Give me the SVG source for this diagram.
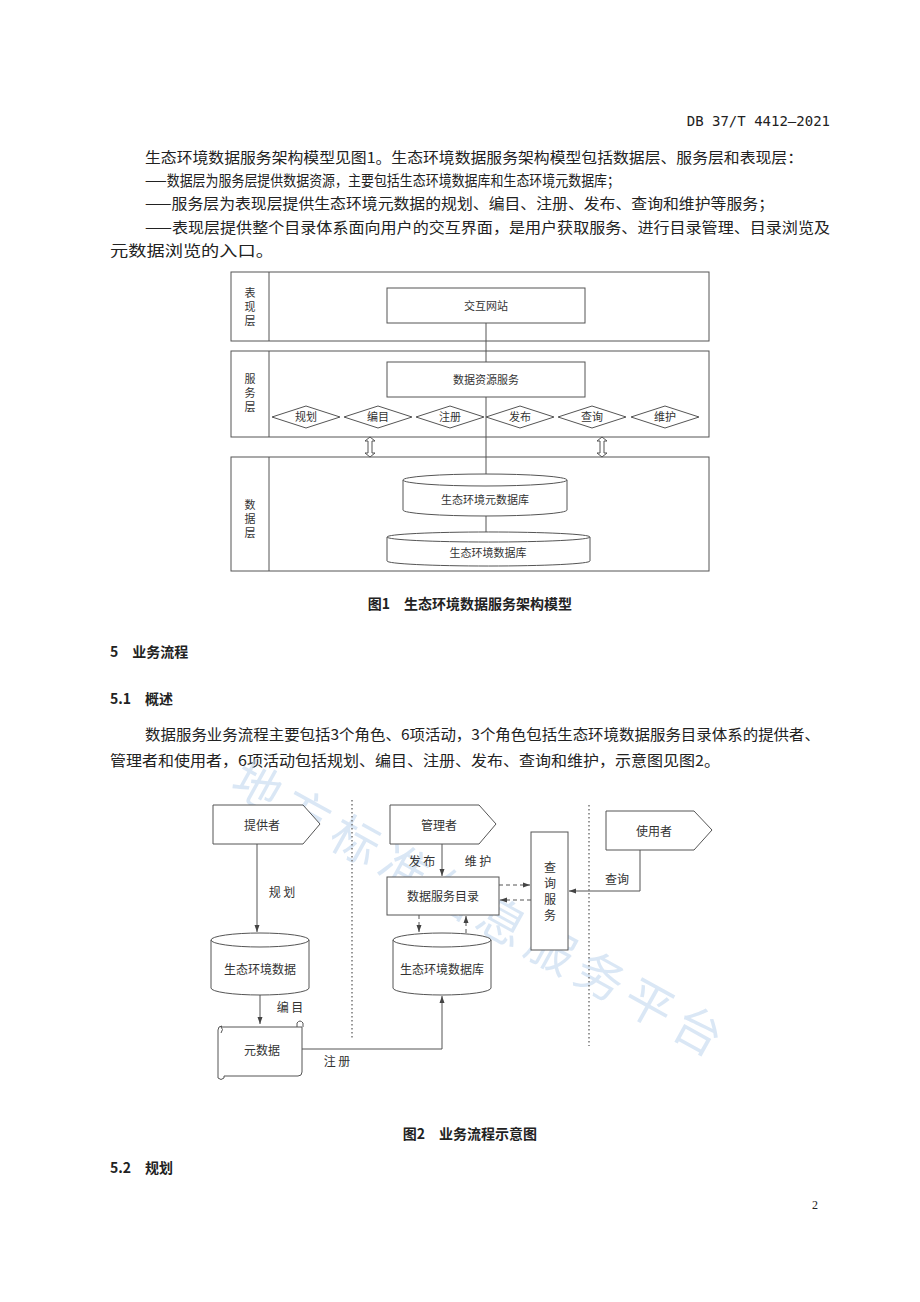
<svg xmlns="http://www.w3.org/2000/svg" width="920" height="1302" viewBox="0 0 920 1302">
<defs>
<marker id="ar" markerWidth="8" markerHeight="8" refX="7" refY="4" orient="auto" markerUnits="userSpaceOnUse"><path d="M0,1.5 L7,4 L0,6.5 Z" fill="#444"/></marker>
</defs>
<style>
text{font-family:"Noto Sans CJK SC","Liberation Serif",serif;fill:#222}
.b{font-size:15px}
.h{font-size:14px;font-weight:bold}
.s{font-size:12px;fill:#333}
.sm{font-size:11px;fill:#333}
.ln{fill:none;stroke:#555;stroke-width:1}
.bx{fill:#fff;stroke:#555;stroke-width:1}
.ds{fill:none;stroke:#555;stroke-width:1;stroke-dasharray:4,3}
.dt{fill:none;stroke:#777;stroke-width:1.5;stroke-dasharray:1.5,2.5}
.wm{font-size:48px;fill:#bcd4ee;opacity:0.55}
</style>
<rect width="920" height="1302" fill="#fff"/>
<text x="830" y="126" text-anchor="end" style="font-family:'DejaVu Sans Mono','Liberation Mono',monospace;font-size:14px">DB 37/T 4412—2021</text>
<text class="b" x="145" y="163" textLength="658" lengthAdjust="spacingAndGlyphs">生态环境数据服务架构模型见图1。生态环境数据服务架构模型包括数据层、服务层和表现层：</text>
<text class="b" x="145" y="186" textLength="475" lengthAdjust="spacingAndGlyphs">——数据层为服务层提供数据资源，主要包括生态环境数据库和生态环境元数据库；</text>
<text class="b" x="145" y="209" textLength="629" lengthAdjust="spacingAndGlyphs">——服务层为表现层提供生态环境元数据的规划、编目、注册、发布、查询和维护等服务；</text>
<text class="b" x="145" y="233" textLength="685" lengthAdjust="spacingAndGlyphs">——表现层提供整个目录体系面向用户的交互界面，是用户获取服务、进行目录管理、目录浏览及</text>
<text class="b" x="110" y="256" textLength="164" lengthAdjust="spacingAndGlyphs">元数据浏览的入口。</text>

<g id="fig1-connectors">
<line class="ln" x1="486" y1="323" x2="486" y2="532"/>
<path class="bx" d="M365,441 l5,-4 l5,4 l-3,0 l0,12 l3,0 l-5,4 l-5,-4 l3,0 l0,-12 Z"/>
<path class="bx" d="M597,441 l5,-4 l5,4 l-3,0 l0,12 l3,0 l-5,4 l-5,-4 l3,0 l0,-12 Z"/>
</g>
<g id="layer-pres"><rect class="ln" x="231" y="272" width="478" height="69"/><line class="ln" x1="269" y1="272" x2="269" y2="341"/>
<text class="sm" x="250" y="297" text-anchor="middle">表</text><text class="sm" x="250" y="311" text-anchor="middle">现</text><text class="sm" x="250" y="325" text-anchor="middle">层</text></g>
<g id="n-web"><rect class="bx" x="387" y="288" width="198" height="35"/><text class="sm" x="486" y="310" text-anchor="middle">交互网站</text></g>
<g id="layer-svc"><rect class="ln" x="231" y="351" width="478" height="86"/><line class="ln" x1="269" y1="351" x2="269" y2="437"/>
<text class="sm" x="250" y="383" text-anchor="middle">服</text><text class="sm" x="250" y="397" text-anchor="middle">务</text><text class="sm" x="250" y="411" text-anchor="middle">层</text></g>
<g id="n-drs"><rect class="bx" x="387" y="362" width="198" height="35"/><text class="sm" x="486" y="384" text-anchor="middle">数据资源服务</text></g>
<g id="d1"><polygon class="bx" points="272,417 306,406 340,417 306,428"/><text class="sm" x="306" y="421" text-anchor="middle">规划</text></g>
<g id="d2"><polygon class="bx" points="344,417 378,406 412,417 378,428"/><text class="sm" x="378" y="421" text-anchor="middle">编目</text></g>
<g id="d3"><polygon class="bx" points="416,417 450,406 484,417 450,428"/><text class="sm" x="450" y="421" text-anchor="middle">注册</text></g>
<g id="d4"><polygon class="bx" points="486,417 520,406 554,417 520,428"/><text class="sm" x="520" y="421" text-anchor="middle">发布</text></g>
<g id="d5"><polygon class="bx" points="558,417 592,406 626,417 592,428"/><text class="sm" x="592" y="421" text-anchor="middle">查询</text></g>
<g id="d6"><polygon class="bx" points="631,417 665,406 699,417 665,428"/><text class="sm" x="665" y="421" text-anchor="middle">维护</text></g>
<g id="layer-data"><rect class="ln" x="231" y="457" width="478" height="114"/><line class="ln" x1="269" y1="457" x2="269" y2="571"/>
<text class="sm" x="250" y="509" text-anchor="middle">数</text><text class="sm" x="250" y="523" text-anchor="middle">据</text><text class="sm" x="250" y="537" text-anchor="middle">层</text></g>
<g id="n-meta-db"><path class="bx" d="M403,480 A82,6 0 0 1 567,480 L567,510 A82,6 0 0 1 403,510 Z"/><path class="ln" d="M403,480 A82,6 0 0 0 567,480"/><text class="sm" x="485" y="504" text-anchor="middle">生态环境元数据库</text></g>
<g id="n-db"><path class="bx" d="M387,537 A101,5 0 0 1 590,537 L590,561 A101,5 0 0 1 387,561 Z"/><path class="ln" d="M387,537 A101,5 0 0 0 590,537"/><text class="sm" x="488" y="557" text-anchor="middle">生态环境数据库</text></g>
<text class="h" x="470" y="609" text-anchor="middle">图1　生态环境数据服务架构模型</text>

<text class="h" x="110" y="657">5　业务流程</text>
<text class="h" x="110" y="704">5.1　概述</text>
<text class="b" x="145" y="740" textLength="675" lengthAdjust="spacingAndGlyphs">数据服务业务流程主要包括3个角色、6项活动，3个角色包括生态环境数据服务目录体系的提供者、</text>
<text class="b" x="110" y="766" textLength="610" lengthAdjust="spacingAndGlyphs">管理者和使用者，6项活动包括规划、编目、注册、发布、查询和维护，示意图见图2。</text>

<g id="watermark" transform="translate(228,790) rotate(29)"><text class="wm" x="0" y="0" style="letter-spacing:8px">地方标准信息服务平台</text></g>

<g id="fig2-connectors">
<line class="dt" x1="352" y1="800" x2="352" y2="1040"/>
<line class="dt" x1="589" y1="805" x2="589" y2="1046"/>
<line class="ln" x1="257" y1="844" x2="257" y2="932" marker-end="url(#ar)"/>
<line class="ln" x1="260" y1="995" x2="260" y2="1024" marker-end="url(#ar)"/>
<path class="ln" d="M302,1049 L442,1049 L442,996" marker-end="url(#ar)"/>
<line class="ln" x1="442" y1="844" x2="442" y2="876" marker-end="url(#ar)"/>
<line class="ds" x1="499" y1="885" x2="530" y2="885" marker-end="url(#ar)"/>
<line class="ds" x1="531" y1="900" x2="500" y2="900" marker-end="url(#ar)"/>
<line class="ds" x1="419" y1="915" x2="419" y2="932" marker-end="url(#ar)"/>
<line class="ds" x1="466" y1="933" x2="466" y2="916" marker-end="url(#ar)"/>
<path class="ln" d="M640,850 L640,891 L569,891" marker-end="url(#ar)"/>
<text class="s" x="282" y="897" text-anchor="middle">规 划</text>
<text class="s" x="290" y="1012" text-anchor="middle">编 目</text>
<text class="s" x="337" y="1066" text-anchor="middle">注 册</text>
<text class="s" x="422" y="866" text-anchor="middle">发 布</text>
<text class="s" x="478" y="866" text-anchor="middle">维 护</text>
<text class="s" x="617" y="884" text-anchor="middle">查询</text>
</g>
<g id="n-provider"><polygon class="bx" points="213,805 303,805 320,824 303,844 213,844"/><text class="s" x="262" y="830" text-anchor="middle">提供者</text></g>
<g id="n-manager"><polygon class="bx" points="390,805 479,805 496,824 479,844 390,844"/><text class="s" x="439" y="830" text-anchor="middle">管理者</text></g>
<g id="n-user"><polygon class="bx" points="606,811 694,811 712,830 694,850 606,850"/><text class="s" x="654" y="836" text-anchor="middle">使用者</text></g>
<g id="n-query"><rect class="bx" x="531" y="832" width="37" height="118"/><text class="s" x="550" y="872" text-anchor="middle">查</text><text class="s" x="550" y="888" text-anchor="middle">询</text><text class="s" x="550" y="904" text-anchor="middle">服</text><text class="s" x="550" y="920" text-anchor="middle">务</text></g>
<g id="n-catalog"><rect class="bx" x="387" y="877" width="112" height="38"/><text class="s" x="443" y="901" text-anchor="middle">数据服务目录</text></g>
<g id="n-envdata"><path class="bx" d="M211,940 A49,7 0 0 1 309,940 L309,988 A49,7 0 0 1 211,988 Z"/><path class="ln" d="M211,940 A49,7 0 0 0 309,940"/><text class="s" x="260" y="974" text-anchor="middle">生态环境数据</text></g>
<g id="n-envdb"><path class="bx" d="M393,940 A49,7 0 0 1 491,940 L491,988 A49,7 0 0 1 393,988 Z"/><path class="ln" d="M393,940 A49,7 0 0 0 491,940"/><text class="s" x="442" y="974" text-anchor="middle">生态环境数据库</text></g>
<g id="n-meta"><path class="bx" d="M221,1027 L302,1027 L302,1072 Q302,1076 298,1076 L224,1076 L224,1078 Q221,1081 218,1078 L218,1030 Q218,1026 222,1026 Z"/><path class="ln" d="M221,1027 Q224,1029 221,1033 M297,1027 L297,1023 Q300,1019 303,1023 L303,1027"/><text class="s" x="262" y="1055" text-anchor="middle">元数据</text></g>
<text class="h" x="470" y="1139" text-anchor="middle">图2　业务流程示意图</text>
<text class="h" x="110" y="1173">5.2　规划</text>
<text x="812" y="1209" style="font-family:'Liberation Serif',serif;font-size:12px">2</text>
</svg>
